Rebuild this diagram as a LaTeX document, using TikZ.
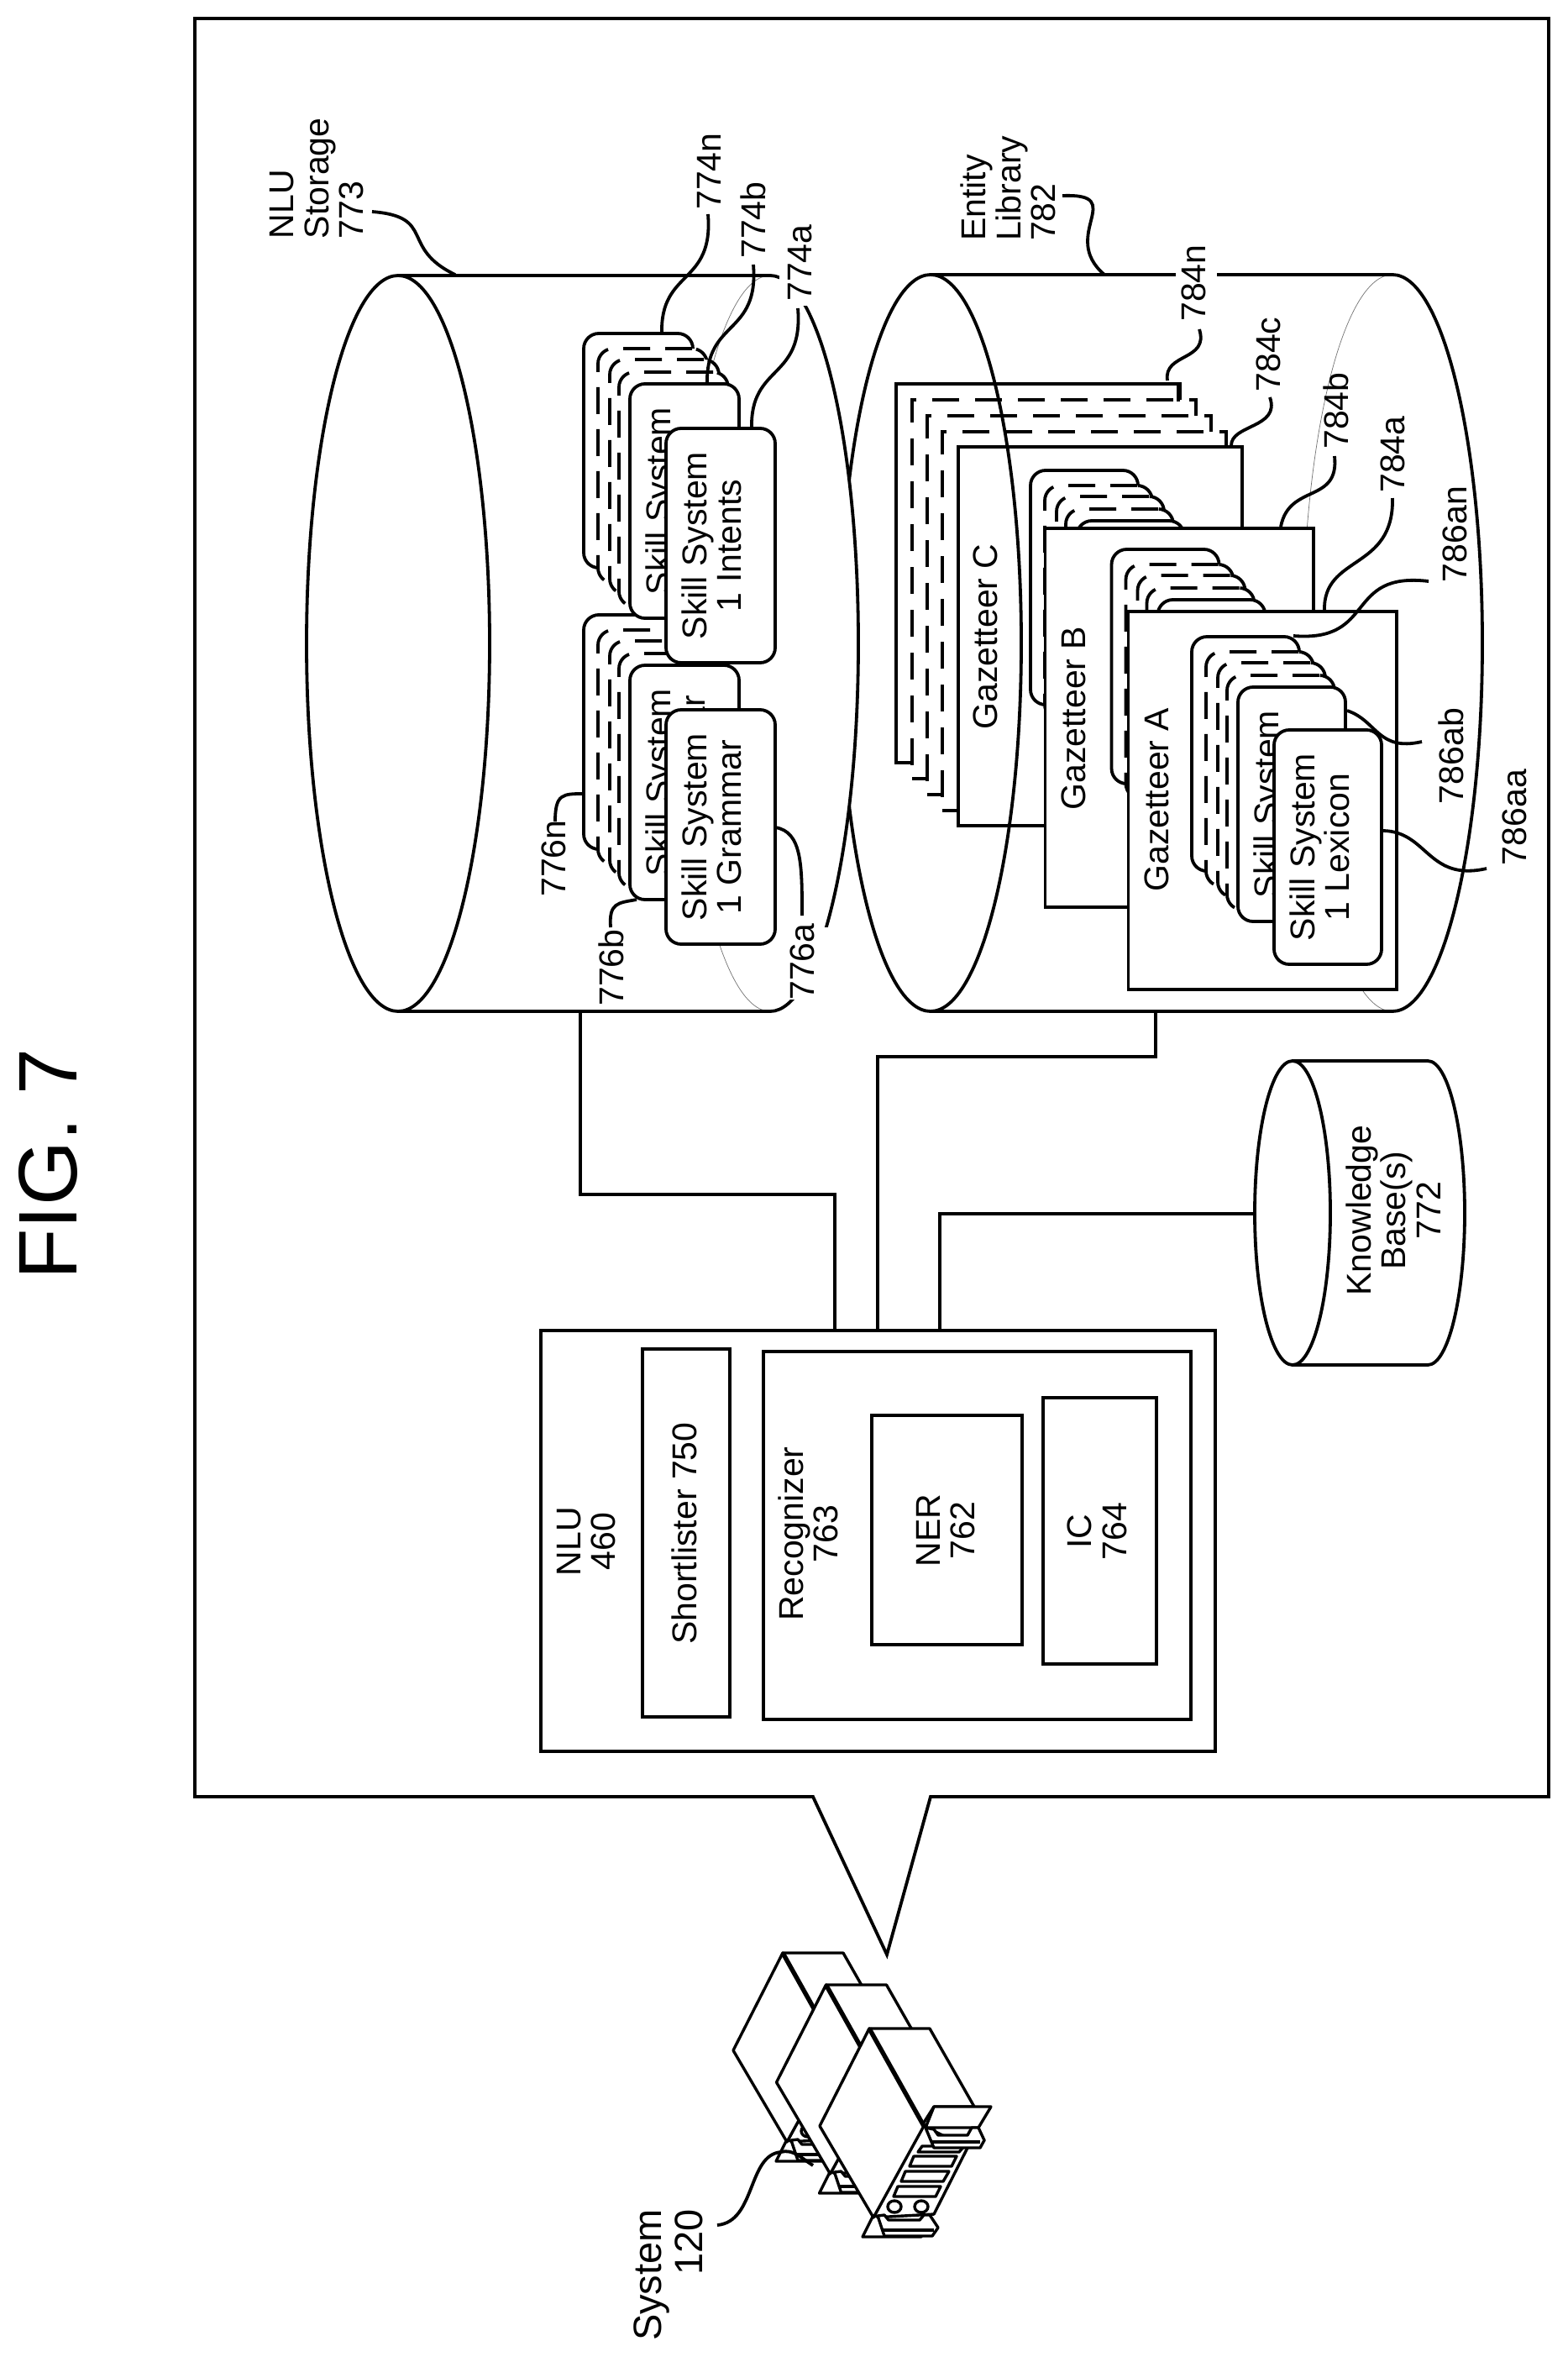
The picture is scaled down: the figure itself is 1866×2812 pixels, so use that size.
\documentclass[tikz,border=0pt]{standalone}
\usepackage{fontspec}
\setmainfont{Liberation Sans}
\tikzset{
  ln/.style={line width=3.8pt,line join=miter,draw=black},
  boxs/.style={ln,fill=white,rectangle,inner sep=0pt,outer sep=0pt},
  rbox/.style={boxs,rounded corners=18pt},
  dbox/.style={rbox,dash pattern=on 32pt off 18pt},
  gbox/.style={boxs},
  gdash/.style={boxs,dash pattern=on 32pt off 19pt},
  txt/.style={font=\fontsize{41}{41.5}\selectfont,rotate=90,inner sep=0pt,outer sep=0pt,align=center,anchor=south},
  txtl/.style={font=\fontsize{41}{41.5}\selectfont,rotate=90,inner sep=0pt,outer sep=0pt,align=left,anchor=south west},
  hair/.style={line width=0.7pt,draw=black!55},
  sv/.style={line width=3.4pt,line join=round,draw=black,fill=white},
}
% name, x1, y1, x2, y2, style
\newcommand\bx[6]{\node[#6,minimum width={(#4)-(#2)},minimum height={(#5)-(#3)}] (#1) at ({((#2)+(#4))/2},{((#3)+(#5))/2}) {};}
% name, baseline x, centre y, text
\newcommand\lab[4]{\node[txt] (#1) at (#2,#3) {#4};}
% leader: id, start, c1, c2, end
\newcommand\ldr[9]{\coordinate (#1s) at (#2,#3);\coordinate (#1e) at (#8,#9);\draw[ln] (#1s) .. controls (#4,#5) and (#6,#7) .. (#1e);}
% stack: id, x, y, width
\newcommand\stackback[4]{%
  \bx{#1o}{#2}{#3}{#2+#4}{#3+279}{rbox}
  \bx{#1d}{#2+17}{#3+18}{#2+17+#4}{#3+18+279}{dbox}
  \bx{#1e}{#2+31}{#3+31}{#2+31+#4}{#3+31+279}{dbox}
  \bx{#1f}{#2+42}{#3+46}{#2+42+#4}{#3+46+279}{dbox}
  \bx{#1g}{#2+55}{#3+60}{#2+55+#4}{#3+60+279}{rbox}}
\newcommand\serverunit{%
  % panel
  \draw[sv] (1098,2530) -- (1040,2640) -- (1112,2636) -- (1152,2557) -- cycle;
  % top face and tab
  \draw[sv] (1035,2415) -- (1107,2415) -- (1160,2508) -- (1112,2508) -- (1098,2530) -- cycle;
  \draw[sv] (1112,2508) -- (1180,2508) -- (1165,2533) -- (1102,2533) -- cycle;
  % slots
  \draw[sv] (1098,2555) -- (1148,2555) -- (1142,2562) -- (1093,2562) -- cycle;
  \draw[sv] (1088,2567) -- (1139,2567) -- (1133,2579) -- (1083,2579) -- cycle;
  \draw[sv] (1078,2585) -- (1130,2585) -- (1123,2597) -- (1073,2597) -- cycle;
  \draw[sv] (1069,2603) -- (1120,2603) -- (1114,2615) -- (1064,2615) -- cycle;
  \draw[sv] (1065,2627) ellipse [x radius=8pt,y radius=7pt];
  \draw[sv] (1097,2627) ellipse [x radius=8pt,y radius=7pt];
  \draw[sv] (1099,2633) -- (1099,2645);
  % upper bracket
  \draw[sv] (1102,2533) -- (1112,2535) -- (1117,2542) -- (1152,2542) -- (1157,2533) -- (1165,2533) -- (1172,2548) -- (1167,2557) -- (1112,2557) -- cycle;
  \draw[sv] (1110,2550) -- (1167,2550);
  % lower triangle and bracket
  \draw[sv] (1040,2637) -- (1027,2663) -- (1097,2663) -- cycle;
  \draw[sv] (1045,2638) -- (1053,2637) -- (1058,2643) -- (1095,2643) -- (1100,2637) -- (1107,2637) -- (1117,2652) -- (1110,2662) -- (1053,2662) -- cycle;
  \draw[sv] (1050,2655) -- (1112,2655);
  % side face
  \draw[sv] (1035,2415) -- (976,2531) -- (1040,2640) -- (1100,2531) -- cycle;
  \draw[line width=5.4pt] (1035,2415) -- (1100,2531);
}
\begin{document}
\begin{tikzpicture}[x=1pt,y=-1pt]
\useasboundingbox (0,0) rectangle (1866,2812);
\fill[white] (0,0) rectangle (1866,2812);

% callout
\draw[ln] (232,22) -- (1844,22) -- (1844,2139) -- (1108,2139) -- (1056,2327) -- (968,2139) -- (232,2139) -- cycle;

\node[rotate=90,inner sep=0pt,anchor=south,font=\fontsize{99}{100}\selectfont] (fig) at (93,1386) {FIG. 7};

% NLU block
\bx{nlu}{644}{1584}{1447}{2085}{boxs}
\bx{short}{765}{1606}{869}{2044}{boxs}
\bx{recog}{909}{1609}{1418}{2047}{boxs}
\bx{ner}{1038}{1685}{1217}{1958}{boxs}
\bx{ic}{1242}{1664}{1377}{1981}{boxs}
\lab{tnlu}{733}{1835}{NLU\\460}
\lab{tshort}{829.5}{1825.5}{Shortlister 750}
\lab{trecog}{998}{1826}{Recognizer\\763}
\lab{tner}{1161}{1822}{NER\\762}
\lab{tic}{1341.5}{1823}{IC\\764}

% Entity library cylinder (body)
\coordinate (elt) at (1108,327);
\coordinate (elb) at (1108,1204);
\coordinate (ert) at (1658,327);
\coordinate (erb) at (1658,1204);
\draw[hair] (ert) arc[start angle=90,end angle=270,x radius=107pt,y radius=438.5pt];
\draw[ln] (elt) -- (ert) arc[start angle=90,end angle=-90,x radius=107pt,y radius=438.5pt] -- (elb);

% Gazetteer C
\bx{gc3}{1067}{457}{1405}{908}{gbox}
\bx{gc2}{1086}{476}{1424}{927}{gdash}
\bx{gc1}{1104}{495}{1442}{946}{gdash}
\bx{gc0}{1122}{514}{1460}{965}{gdash}
\bx{gc}{1141}{532}{1479}{983}{boxs}
\lab{tgc}{1188}{758}{Gazetteer C}
\stackback{sc}{1227}{560}{128}
% Gazetteer B
\bx{gb}{1244.5}{629}{1564}{1080}{boxs}
\lab{tgb}{1293}{855}{Gazetteer B}
\stackback{sb}{1323.5}{654}{128}
% Gazetteer A
\bx{ga}{1343.5}{728}{1663}{1178}{boxs}
\lab{tga}{1392}{952}{Gazetteer A}
\stackback{sa}{1419}{758}{128}
\lab{tsa}{1564}{957.5}{Skill System\\1 Lexicon}
\bx{lex}{1517}{869}{1645}{1148}{rbox}
\lab{tlex}{1607}{1008.5}{Skill System\\1 Lexicon}

% Entity front ellipse (runs over the stack)
\draw[ln] (1108,765.5) ellipse [x radius=108pt,y radius=438.5pt];

% NLU storage cylinder
\fill[white] (474,328) -- (917,328) arc[start angle=90,end angle=-90,x radius=105pt,y radius=438pt] -- (474,1204) -- cycle;
\coordinate (slt) at (474,328);
\coordinate (slb) at (474,1204);
\coordinate (srt) at (917,328);
\coordinate (srb) at (917,1204);
\draw[hair] (srt) arc[start angle=90,end angle=270,x radius=105pt,y radius=438pt];
\draw[ln] (slt) -- (srt) arc[start angle=90,end angle=-90,x radius=105pt,y radius=438pt] -- (slb);
\draw[ln,fill=white] (474,766) ellipse [x radius=109pt,y radius=438pt];

% gaps behind labels
\fill[white] (928,260) rectangle (990,364);
\fill[white] (935,1104) rectangle (990,1190);
\fill[white] (1400,285) rectangle (1449,385);

% Grammar stack
\stackback{gr}{695}{732}{130}
\lab{tgr2}{840}{931.5}{Skill System\\1 Grammar}
\bx{gram}{793}{845}{923}{1124}{rbox}
\lab{tgram}{883}{984.5}{Skill System\\1 Grammar}
% Intents stack
\stackback{in}{695}{397}{130}
\lab{tin2}{840}{596.5}{Skill System\\1 Intents}
\bx{intents}{793}{510}{923}{789}{rbox}
\lab{tintents}{883}{649.5}{Skill System\\1 Intents}

% Knowledge base
\coordinate (kbt) at (1700,1263);
\coordinate (kbb) at (1700,1625);
\coordinate (kblt) at (1539,1263);
\coordinate (kblb) at (1539,1625);
\draw[ln] (kblt) -- (kbt) arc[start angle=90,end angle=-90,x radius=44pt,y radius=181pt] -- (kblb);
\draw[ln] (1539,1444) ellipse [x radius=45pt,y radius=181pt];
\lab{tkb}{1715}{1441}{Knowledge\\Base(s)\\772}

% connectors
\coordinate (ca1) at (691,1204);
\coordinate (ca2) at (691,1422);
\coordinate (ca3) at (994,1422);
\draw[ln] (ca1) -- (ca2) -- (ca3) -- (ca3 |- nlu.north);
\coordinate (cb1) at (1376,1204);
\coordinate (cb2) at (1376,1258);
\coordinate (cb3) at (1045,1258);
\draw[ln] (cb1) -- (cb2) -- (cb3) -- (cb3 |- nlu.north);
\coordinate (cc1) at (1494,1445);
\coordinate (cc2) at (1119,1445);
\draw[ln] (cc1) -- (cc2) -- (cc2 |- nlu.north);

% outside labels
\node[txtl] (tstore) at (433,284) {NLU\\Storage\\773};
\node[txtl] (tentity) at (1257,287) {Entity\\Library\\782};
\ldr{l773}{443}{252}{520}{258}{475}{295}{542}{327}
\ldr{l782}{1265}{233}{1345}{230}{1260}{280}{1315}{327}

\lab{t774n}{858}{204}{774n}
\lab{t774b}{912}{262}{774b}
\lab{t774a}{967}{313}{774a}
\lab{t776n}{674}{1022}{776n}
\lab{t776b}{743}{1152}{776b}
\lab{t776a}{970}{1145}{776a}
\ldr{l774n}{788}{397}{786}{320}{850}{340}{843}{255}
\ldr{l774b}{842}{457}{840}{380}{904}{400}{897}{315}
\ldr{l774a}{895}{510}{893}{433}{957}{453}{950}{367}
\ldr{l776n}{695}{945}{670}{945}{661}{945}{661}{978}
\ldr{l776b}{758}{1071}{735}{1075}{725}{1075}{727}{1104}
\ldr{l776a}{923}{985}{955}{990}{955}{1030}{955}{1090}

\lab{t784n}{1436}{337}{784n}
\lab{t784c}{1525}{422}{784c}
\lab{t784b}{1606}{489}{784b}
\lab{t784a}{1673}{541}{784a}
\lab{t786an}{1747}{636}{786an}
\lab{t786ab}{1743}{900}{786ab}
\lab{t786aa}{1818}{973}{786aa}
\ldr{l784n}{1390}{453}{1385}{420}{1440}{430}{1428}{392}
\draw[ln] (1403,457) -- (1403,478);
\ldr{l784c}{1466}{531}{1465}{505}{1525}{510}{1512}{473}
\ldr{l784b}{1525}{627}{1535}{575}{1595}{600}{1589}{543}
\ldr{l784a}{1577}{727}{1575}{660}{1660}{680}{1658}{593}
\ldr{l786an}{1540}{757}{1640}{765}{1600}{680}{1701}{692}
\ldr{l786ab}{1604}{846}{1640}{858}{1640}{895}{1693}{883}
\ldr{l786aa}{1647}{989}{1700}{990}{1700}{1050}{1770}{1034}

% server
\begin{scope}[shift={(-103,-90)}]\serverunit\end{scope}
\begin{scope}[shift={(-51.5,-52)}]\serverunit\end{scope}
\serverunit

\node[rotate=90,inner sep=0pt,anchor=south east,align=right,font=\fontsize{47}{49}\selectfont] (tsys) at (837,2630) {System\\120};
\coordinate (lsa) at (854,2649);
\coordinate (lsb) at (968,2578);
\draw[ln] (lsa) .. controls (900,2645) and (890,2565) .. (930,2562) .. controls (945,2558) and (955,2570) .. (lsb);
\end{tikzpicture}
\end{document}
